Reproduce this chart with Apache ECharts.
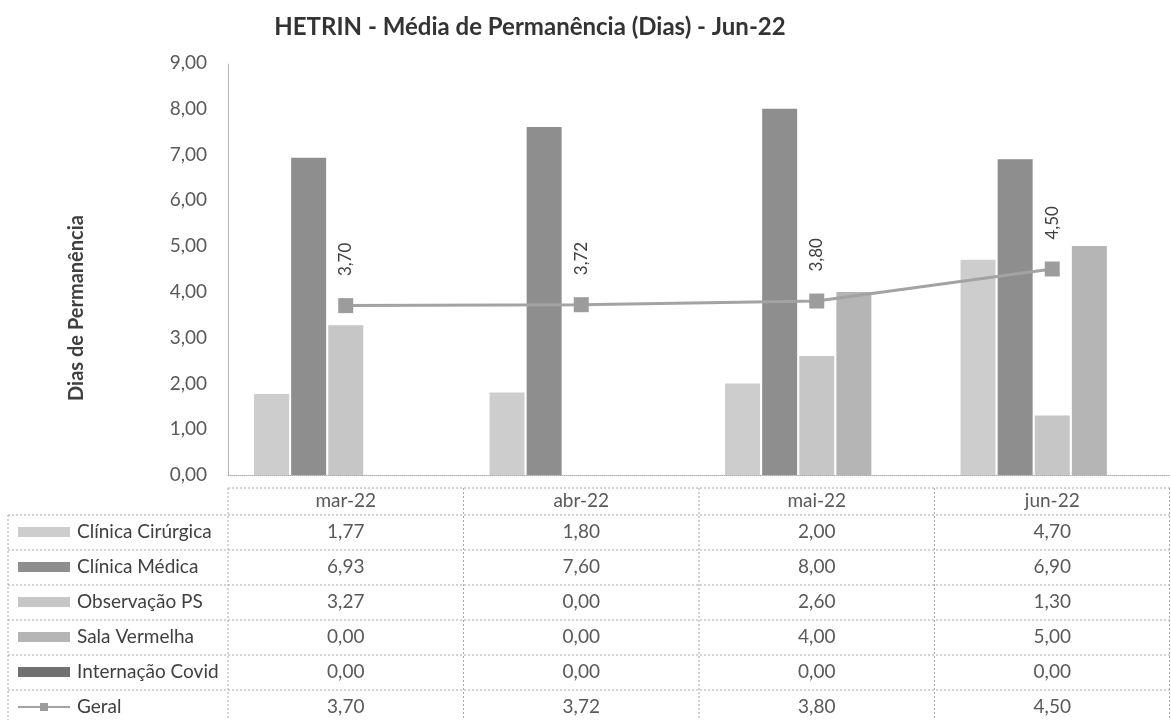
<!DOCTYPE html>
<html>
<head>
<meta charset="utf-8">
<script src="https://cdn.jsdelivr.net/npm/echarts@6/dist/echarts.min.js"></script>
<style>html,body{margin:0;padding:0;background:#fff;}#c{width:1171px;height:720px;}</style>
</head>
<body>
<div id="c"></div>
<script>
const categories = ['mar-22', 'abr-22', 'mai-22', 'jun-22'];
const clinicaCirurgica = [1.77, 1.80, 2.00, 4.70];
const clinicaMedica = [6.93, 7.60, 8.00, 6.90];
const observacaoPS = [3.27, 0.00, 2.60, 1.30];
const salaVermelha = [0.00, 0.00, 4.00, 5.00];
const internacaoCovid = [0.00, 0.00, 0.00, 0.00];
const geral = [3.70, 3.72, 3.80, 4.50];
const yTicks = [0, 1, 2, 3, 4, 5, 6, 7, 8, 9];

const FONT = 'Lato, "Liberation Sans", sans-serif';
const fmt = v => v.toFixed(2).replace('.', ',');

const seriesDefs = [
  { name: 'Clínica Cirúrgica', data: clinicaCirurgica, color: '#cdcdcd' },
  { name: 'Clínica Médica', data: clinicaMedica, color: '#8e8e8e' },
  { name: 'Observação PS', data: observacaoPS, color: '#c6c6c6' },
  { name: 'Sala Vermelha', data: salaVermelha, color: '#b5b5b5' },
  { name: 'Internação Covid', data: internacaoCovid, color: '#707070' }
];

// grid geometry
const GL = 228, GR = 1, GT = 63, GB = 245;
const W = 1171, H = 720;
const axisY = H - GB;
const ROW_H = 35;
const headerCenter = 501;
const firstRowCenter = 532;

const rows = [categories].concat(seriesDefs.map(s => s.data)).concat([geral]);

const xAxes = rows.map((row, i) => ({
  type: 'category',
  data: categories,
  gridIndex: 0,
  position: 'bottom',
  offset: 0,
  axisLine: i === 0 ? { show: true, lineStyle: { color: '#aaaaaa', type: 'dotted', width: 1 } } : { show: false },
  axisTick: { show: false },
  axisLabel: {
    show: true,
    interval: 0,
    margin: i === 0 ? (headerCenter - axisY) : (firstRowCenter - axisY + (i - 1) * ROW_H),
    verticalAlign: 'middle',
    fontFamily: FONT,
    fontSize: 19,
    color: '#595959',
    formatter: (val, idx) => i === 0 ? val : fmt(row[idx])
  }
}));

// table borders
const dash = { stroke: '#a8a8a8', lineWidth: 1, lineDash: [2, 2] };
const graphics = [];
const catW = (W - GL - GR) / categories.length;
const tableTop = 488, tableFirst = 515, tableBottom = 722;
graphics.push({ type: 'line', shape: { x1: GL, y1: tableTop, x2: W - 1, y2: tableTop }, style: dash, silent: true });
for (let r = 0; r < 6; r++) {
  const y = tableFirst + r * ROW_H;
  graphics.push({ type: 'line', shape: { x1: 8, y1: y, x2: W - 1, y2: y }, style: dash, silent: true });
}
graphics.push({ type: 'line', shape: { x1: 8, y1: tableFirst, x2: 8, y2: tableBottom }, style: dash, silent: true });
for (let c = 0; c <= categories.length; c++) {
  const x = Math.min(GL + c * catW, W - 1.5);
  graphics.push({ type: 'line', shape: { x1: x, y1: tableTop, x2: x, y2: tableBottom }, style: dash, silent: true });
}
// y-axis title
graphics.push({
  type: 'text',
  x: 77,
  y: 308,
  rotation: Math.PI / 2,
  style: {
    text: 'Dias de Permanência',
    fontFamily: FONT,
    fontSize: 20,
    fontWeight: 'bold',
    fill: '#404040',
    align: 'center',
    verticalAlign: 'middle'
  },
  silent: true
});

const series = seriesDefs.map(s => ({
  name: s.name,
  type: 'bar',
  xAxisIndex: 0,
  data: s.data,
  barWidth: 35,
  barGap: '6%',
  itemStyle: { color: s.color },
  emphasis: { disabled: true }
}));
series.push({
  name: 'Geral',
  type: 'line',
  xAxisIndex: 0,
  data: geral,
  symbol: 'rect',
  symbolSize: 15,
  lineStyle: { color: '#a3a3a3', width: 3 },
  itemStyle: { color: '#9c9c9c' },
  label: {
    show: true,
    position: 'top',
    rotate: 90,
    distance: 22,
    align: 'left',
    verticalAlign: 'middle',
    fontFamily: FONT,
    fontSize: 17,
    color: '#404040',
    formatter: p => fmt(p.value)
  },
  z: 5
});

const chart = echarts.init(document.getElementById('c'), null, { renderer: 'canvas' });
chart.setOption({
  animation: false,
  backgroundColor: '#ffffff',
  title: {
    text: 'HETRIN - Média de Permanência (Dias) - Jun-22',
    left: 525,
    textAlign: 'center',
    top: 10,
    textStyle: { fontFamily: FONT, fontSize: 24, fontWeight: 'bold', color: '#333333' }
  },
  legend: {
    orient: 'vertical',
    left: 17,
    top: 522,
    padding: 0,
    itemWidth: 52,
    itemHeight: 10,
    itemGap: 15,
    selectedMode: false,
    textStyle: { fontFamily: FONT, fontSize: 19, color: '#404040', lineHeight: 20, padding: [0, 0, 0, 2] },
    data: seriesDefs.map(s => ({ name: s.name, icon: 'rect' })).concat([{ name: 'Geral' }])
  },
  grid: { left: GL, right: GR, top: GT, bottom: GB, containLabel: false },
  xAxis: xAxes,
  yAxis: {
    type: 'value',
    min: yTicks[0],
    max: yTicks[yTicks.length - 1],
    interval: 1,
    axisLine: { show: true, lineStyle: { color: '#aaaaaa', type: 'dotted' } },
    axisTick: { show: false },
    splitLine: { show: false },
    axisLabel: { fontFamily: FONT, fontSize: 19, color: '#595959', margin: 21, formatter: v => fmt(v) }
  },
  series: series,
  graphic: graphics
});
</script>
</body>
</html>
